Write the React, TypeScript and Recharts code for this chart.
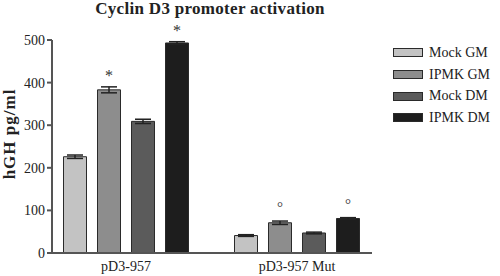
import { BarChart, Bar, XAxis, YAxis, ErrorBar, LabelList } from 'recharts';

const groups = ['pD3-957', 'pD3-957 Mut'];
const mockGM = [226, 41];
const ipmkGM = [383, 71];
const mockDM = [309, 47];
const ipmkDM = [493, 81];
const mockGMErr = [4, 2];
const ipmkGMErr = [7, 4];
const mockDMErr = [5, 2];
const ipmkDMErr = [3, 2];
const ipmkGMMark = ['*', '°'];
const ipmkDMMark = ['*', '°'];
const yTicks = [0, 100, 200, 300, 400, 500];

const series = [
  { key: 'mockGM', name: 'Mock GM', color: '#c3c3c3', marks: null as string[] | null },
  { key: 'ipmkGM', name: 'IPMK GM', color: '#8d8d8d', marks: ipmkGMMark },
  { key: 'mockDM', name: 'Mock DM', color: '#5b5b5b', marks: null },
  { key: 'ipmkDM', name: 'IPMK DM', color: '#1d1d1d', marks: ipmkDMMark },
];

const data = groups.map((group, i) => ({
  group,
  mockGM: mockGM[i],
  ipmkGM: ipmkGM[i],
  mockDM: mockDM[i],
  ipmkDM: ipmkDM[i],
  mockGMErr: mockGMErr[i],
  ipmkGMErr: ipmkGMErr[i],
  mockDMErr: mockDMErr[i],
  ipmkDMErr: ipmkDMErr[i],
}));

const serif = '"Liberation Serif", "Times New Roman", serif';

function markLabel(marks: string[], errKey: string) {
  return (props: any) => {
    const { x, y, width, index } = props;
    const text = marks[index];
    if (!text) return null;
    const err = (data[index] as any)[errKey] * 0.426;
    const isStar = text === '*';
    return (
      <text
        x={x + width / 2}
        y={y - err - (isStar ? 6 : 9)}
        textAnchor="middle"
        fontFamily={serif}
        fontSize={isStar ? 16 : 15}
        fill="#333"
      >
        {text}
      </text>
    );
  };
}

function YTitle() {
  return (
    <text
      transform="translate(15, 134) rotate(-90)"
      textAnchor="middle"
      fontFamily={serif}
      fontWeight="bold"
      fontSize={17}
      letterSpacing={1}
      fill="#222"
    >
      hGH pg/ml
    </text>
  );
}

export default function App() {
  return (
    <div style={{ position: 'absolute', left: 0, top: 0, width: 500, height: 276, background: '#fff' }}>
      <div
        style={{
          position: 'absolute',
          left: 0,
          top: -1,
          width: 420,
          textAlign: 'center',
          fontFamily: serif,
          fontWeight: 'bold',
          fontSize: 17,
          letterSpacing: 0.3,
          color: '#222',
        }}
      >
        Cyclin D3 promoter activation
      </div>
      <div style={{ position: 'absolute', left: 393, top: 42, fontFamily: serif, fontSize: 14, color: '#222' }}>
        {series.map((s) => (
          <div key={s.key} style={{ display: 'flex', alignItems: 'center', height: 21.7 }}>
            <span
              style={{
                display: 'inline-block',
                width: 28,
                height: 7,
                background: s.color,
                border: '1px solid #2a2a2a',
                marginRight: 6,
              }}
            />
            {s.name}
          </div>
        ))}
      </div>
      <BarChart
        width={500}
        height={276}
        data={data}
        margin={{ top: 40, right: 128, bottom: 0, left: 0 }}
        barCategoryGap={23}
        barGap={11}
      >
        <XAxis
          dataKey="group"
          height={23}
          tickLine={false}
          axisLine={{ stroke: '#555', strokeWidth: 2 }}
          padding={{ left: -11.5, right: -10.5 }}
          tick={{ fontFamily: serif, fontSize: 14, fill: '#222' }}
        />
        <YAxis
          width={52}
          domain={[0, 500]}
          ticks={yTicks}
          interval={0}
          axisLine={{ stroke: '#555', strokeWidth: 2 }}
          tickLine={{ stroke: '#555', strokeWidth: 2 }}
          tickSize={5}
          tick={{ fontFamily: serif, fontSize: 14, fill: '#222' }}
          label={{ content: () => <YTitle /> }}
        />
        {series.map((s) => (
          <Bar
            key={s.key}
            dataKey={s.key}
            name={s.name}
            fill={s.color}
            stroke="#2a2a2a"
            strokeWidth={1}
            isAnimationActive={false}
          >
            <ErrorBar dataKey={`${s.key}Err`} width={8} stroke="#222" strokeWidth={1.5} />
            {s.marks && <LabelList dataKey={s.key} content={markLabel(s.marks, `${s.key}Err`)} />}
          </Bar>
        ))}
      </BarChart>
    </div>
  );
}
